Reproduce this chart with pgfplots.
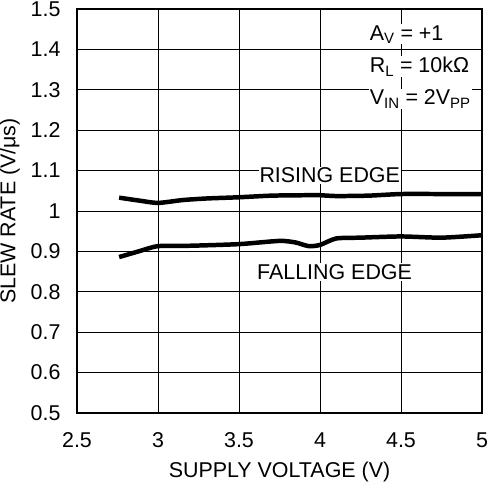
\documentclass[border=0pt]{standalone}
\usepackage{pgfplots}
\pgfplotsset{compat=1.18}
\usepackage{fontspec}
\setmainfont{Liberation Sans}
\begin{document}
\begin{tikzpicture}
\begin{axis}[
  scale only axis,
  width=405bp, height=404bp,
  xmin=2.5, xmax=5, ymin=0.5, ymax=1.5,
  xtick={2.5,3,...,5}, ytick={0.5,0.6,...,1.5},
  grid=major,
  major grid style={black, line width=0.9pt},
  axis line style={black, line width=1.8pt},
  major tick length=0pt,
  tick label style={font=\fontsize{21.5}{24}\selectfont},
  label style={font=\fontsize{21.5}{24}\selectfont},
  /pgf/number format/assume math mode=true,
  xticklabel style={yshift=-16bp},
  yticklabel style={xshift=-13bp},
  xlabel={SUPPLY VOLTAGE (V)},
  ylabel={SLEW RATE (V/μs)},
  xlabel style={yshift=-7bp},
  ylabel style={yshift=4bp},
  clip=false,
]
\addplot[black, line width=4.5pt, smooth, tension=0.4] coordinates {
(2.76,1.033) (2.88,1.026) (3.0,1.020) (3.15,1.027) (3.3,1.031) (3.5,1.034) (3.7,1.038) (3.9,1.039) (4.0,1.039) (4.1,1.037) (4.3,1.038) (4.5,1.042) (4.75,1.042) (5.0,1.042)
};
\addplot[black, line width=4.5pt, smooth, tension=0.4] coordinates {
(2.76,0.886) (2.88,0.900) (3.0,0.913) (3.2,0.914) (3.5,0.918) (3.75,0.926) (3.85,0.922) (3.93,0.913) (4.0,0.916) (4.1,0.932) (4.25,0.934) (4.5,0.937) (4.75,0.934) (5.0,0.940)
};
\node[fill=white, inner sep=1pt, font=\fontsize{21.5}{24}\selectfont] at (axis cs:4.06,1.088) {RISING EDGE};
\node[fill=white, inner sep=1pt, font=\fontsize{21.5}{24}\selectfont] at (axis cs:4.09,0.849) {FALLING EDGE};
\node[fill=white, inner sep=1pt, anchor=west, font=\fontsize{21.5}{24}\selectfont] at (axis cs:4.30,1.437) {A\textsubscript{V} = +1};
\node[fill=white, inner sep=1pt, anchor=west, font=\fontsize{21.5}{24}\selectfont] at (axis cs:4.30,1.357) {R\textsubscript{L} = 10kΩ};
\node[fill=white, inner sep=1pt, anchor=west, font=\fontsize{21.5}{24}\selectfont] at (axis cs:4.30,1.277) {V\textsubscript{IN} = 2V\textsubscript{PP}};
\end{axis}
\pgfresetboundingbox
\path (current axis.south west) ++(-77bp,-72bp) coordinate (a);
\path (current axis.north east) ++(6bp,9bp) coordinate (b);
\path[use as bounding box] (a) rectangle (b);
\end{tikzpicture}
\end{document}
